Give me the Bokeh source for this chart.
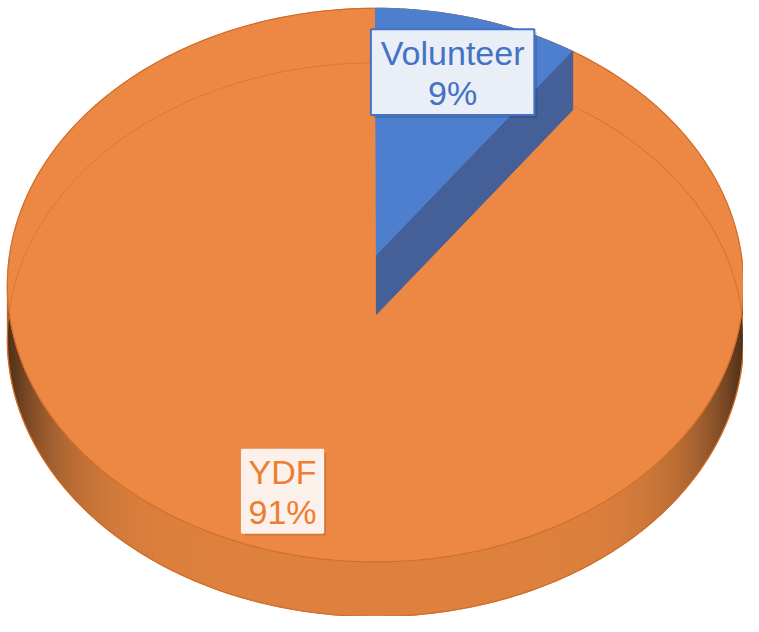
import numpy as np
from bokeh.plotting import figure
from bokeh.models import Range1d
from bokeh.embed import file_html
from bokeh.resources import INLINE
from bokeh.core.properties import value

# ---- data ----
categories = ["Volunteer", "YDF"]
values = [9, 91]

# ---- style ----
top_colors = ["#4E7FCF", "#EC8843"]
cut_colors = ["#455F98", "#B8662C"]
text_colors = ["#4472C4", "#ED7D31"]
box_fill = ["#E9EEF7", "#FCF0EA"]
box_line = ["#4472C4", "#FCF0EA"]
box_size = [(167, 88), (83, 85)]
label_shift = [(-4, -3), (-12, -4)]
FONT = "Liberation Sans"

CX, CY = 379.0, 288.0      # ellipse centre (screen units)
RX, RY = 376.0, 284.0
DEPTH = 56.0               # pie thickness
LIFT = 30.0                # raised first slice
LABEL_R = 0.79

p = figure(width=743, height=616, output_backend="svg", toolbar_location=None,
           x_range=Range1d(-4, 755), y_range=Range1d(628, -4),
           min_border=0, outline_line_color=None, background_fill_color="white")
p.axis.visible = False
p.grid.visible = False


def pt(theta_deg, dy=0.0, r=1.0):
    t = np.radians(theta_deg)
    return CX + r * RX * np.sin(t), CY - r * RY * np.cos(t) + dy


def mix(c1, c2, w):
    a = [int(c1[i:i + 2], 16) for i in (1, 3, 5)]
    b = [int(c2[i:i + 2], 16) for i in (1, 3, 5)]
    return "#%02x%02x%02x" % tuple(int(round(a[k] * (1 - w) + b[k] * w)) for k in range(3))


# side band (front rim) drawn as overlapping shaded strips
mid_col, dark_col = "#DE813E", "#4A2E18"
edges = np.linspace(90, 270, 181)
xs, ys, cs = [], [], []
for a0, a1 in zip(edges[:-1], edges[1:]):
    th = np.linspace(a0, min(a1 + 0.8, 270), 5)
    tx, ty = pt(th)
    bx, by = pt(th[::-1], DEPTH)
    xs.append(list(tx) + list(bx))
    ys.append(list(ty) + list(by))
    s = abs(np.sin(np.radians((a0 + a1) / 2)))
    cs.append(mix(mid_col, dark_col, s ** 7))
p.patches(xs, ys, fill_color=cs, line_color=None)

# bottom outline of band
th = np.linspace(90, 270, 200)
bx, by = pt(th, DEPTH)
p.line(bx, by, line_color="#C8641F", line_width=1.2)
p.line([CX + RX, CX + RX], [CY, CY + DEPTH], line_color="#C8641F", line_width=1)
p.line([CX - RX, CX - RX], [CY, CY + DEPTH], line_color="#C8641F", line_width=1)

# slices (top faces)
total = float(sum(values))
angles = np.cumsum([0] + [v / total * 360 for v in values])
for i in range(len(values)):
    a0, a1 = angles[i], angles[i + 1]
    th = np.linspace(a0, a1, 300)
    ax_, ay_ = pt(th)
    lift = -LIFT if i == 0 else 0.0
    p.patch([CX + 1] + list(ax_), [CY + lift] + list(ay_),
            fill_color=top_colors[i], line_color=top_colors[i], line_width=1)

# top rim outline
th = np.linspace(0, 360, 400)
ex, ey = pt(th)
p.line(ex, ey, line_color="#D06E2A", line_width=1.2)

# faint inner ellipse (far rim) on the orange area
th = np.linspace(angles[1] + 2, 450, 300)
fx, fy = pt(th, DEPTH)
p.line(fx, fy, line_color="#D8742E", line_width=1, line_alpha=0.8)

# raised slice: top face and its cut face
a0, a1 = angles[0], angles[1]
th = np.linspace(a0, a1, 200)
ax_, ay_ = pt(th)
p.patch([CX + 1] + list(ax_), [CY - LIFT] + list(ay_),
        fill_color=top_colors[0], line_color=top_colors[0], line_width=1)
ex_, ey_ = pt(a1)
p.patch([CX + 1, ex_, ex_, CX + 1],
        [CY - LIFT, ey_, ey_ + 2 * LIFT, CY + LIFT],
        fill_color=cut_colors[0], line_color=cut_colors[0], line_width=1)

# labels
for i, (name, v) in enumerate(zip(categories, values)):
    mid = (angles[i] + angles[i + 1]) / 2
    lx, ly = pt(mid, 0, LABEL_R)
    lx += label_shift[i][0]
    ly += label_shift[i][1]
    w, h = box_size[i]
    p.rect([lx + 3], [ly + 3], w, h, fill_color="black", fill_alpha=0.12, line_color=None)
    p.rect([lx], [ly], w, h, fill_color=box_fill[i], line_color=box_line[i], line_width=2)
    pct = "%d%%" % round(v / total * 100)
    p.text([lx, lx], [ly - 20, ly + 21], text=[name, pct],
           text_font=value(FONT), text_font_size="34px", text_color=text_colors[i],
           text_align="center", text_baseline="middle")

open("out.html", "w").write(file_html(p, INLINE))
